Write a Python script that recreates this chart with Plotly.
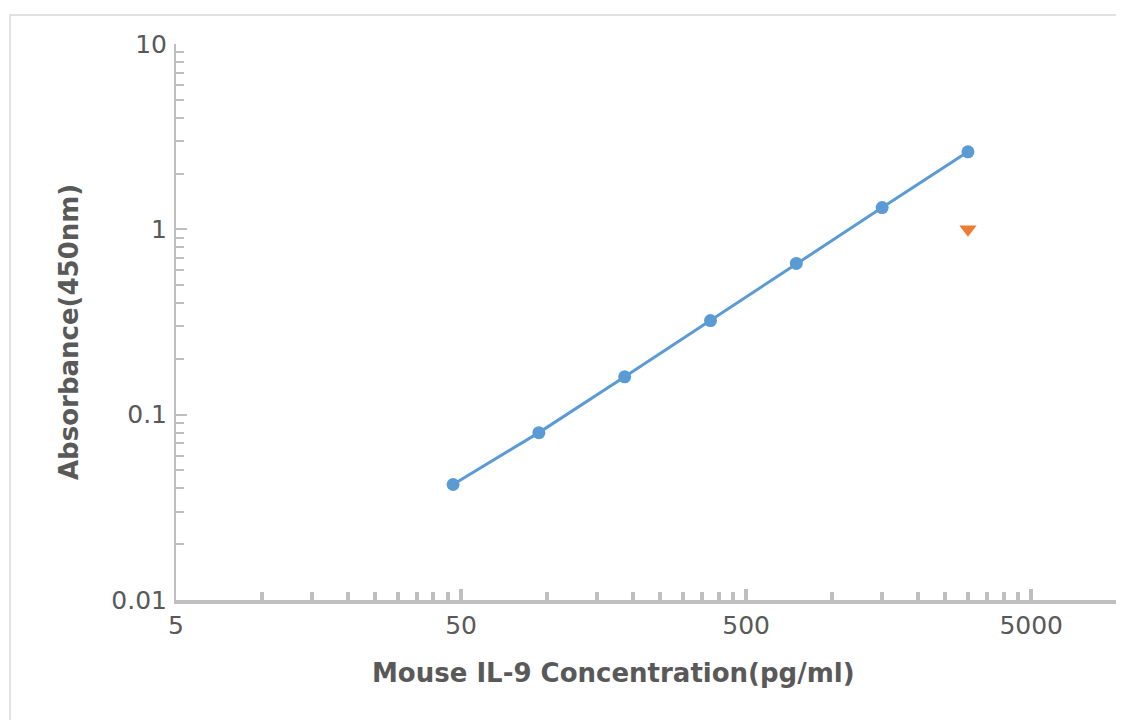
import plotly.graph_objects as go

# Data
concentration = [46.875, 93.75, 187.5, 375, 750, 1500, 3000]
absorbance = [0.042, 0.080, 0.160, 0.322, 0.655, 1.31, 2.62]
outlier_x = [3000]
outlier_y = [1.0]

x_tickvals = [5, 50, 500, 5000]
x_ticktext = ["5", "50", "500", "5000"]
x_minor = [m * 5 * 10 ** e for e in range(0, 3) for m in range(2, 10)] + [10000]
y_tickvals = [0.01, 0.1, 1, 10]
y_ticktext = ["0.01", "0.1", "1", "10"]
y_minor = [m * 10 ** e for e in range(-2, 1) for m in range(2, 10)]

x_title = "<b>Mouse IL-9 Concentration(pg/ml)</b>"
y_title = "<b>Absorbance(450nm)</b>"

AX = "#BFBFBF"
TXT = "#595959"

fig = go.Figure()
fig.add_trace(go.Scatter(
    x=concentration, y=absorbance, mode="lines+markers",
    line=dict(color="#5B9BD5", width=3),
    marker=dict(color="#5B9BD5", size=13, symbol="circle"),
    showlegend=False, cliponaxis=False,
))
fig.add_trace(go.Scatter(
    x=outlier_x, y=outlier_y, mode="markers",
    marker=dict(color="#ED7D31", size=15, symbol="triangle-down"),
    showlegend=False, cliponaxis=False,
))

# page body has an 8px margin; compensate
OFF = 8
W, H = 1124, 720
L, R, T, B = 176 - OFF, 15, 44 - OFF, 128
pw, ph = W - L - R, H - T - B

def px_x(sx):  # screen x -> paper
    return (sx - OFF - L) / pw

def px_y(sy):  # screen y -> paper
    return (T + ph - (sy - OFF)) / ph

fig.update_layout(
    width=W, height=H,
    margin=dict(l=L, r=R, t=T, b=B, autoexpand=False),
    paper_bgcolor="white", plot_bgcolor="white",
    font=dict(family="DejaVu Sans", color=TXT),
    xaxis=dict(
        type="log", range=[0.69897, 4.0],
        tickmode="array", tickvals=x_tickvals, ticktext=x_ticktext,
        ticks="inside", ticklen=11, tickwidth=4, tickcolor=AX,
        minor=dict(tickmode="array", tickvals=x_minor, ticks="inside",
                   ticklen=8, tickwidth=4, tickcolor=AX, showgrid=False),
        showline=True, linecolor=AX, linewidth=4,
        showgrid=False, zeroline=False,
        tickfont=dict(size=25, color=TXT),
        automargin=False,
    ),
    yaxis=dict(
        type="log", range=[-2, 1],
        tickmode="array", tickvals=y_tickvals, ticktext=y_ticktext,
        ticks="inside", ticklen=11, tickwidth=1.5, tickcolor=AX,
        minor=dict(tickmode="array", tickvals=y_minor, ticks="inside",
                   ticklen=8, tickwidth=1.5, tickcolor=AX, showgrid=False),
        showline=True, linecolor=AX, linewidth=2,
        showgrid=False, zeroline=False,
        tickfont=dict(size=25, color=TXT),
        ticklabelstandoff=2,
        automargin=False,
    ),
    annotations=[
        dict(text=x_title, xref="paper", yref="paper",
             x=px_x(613), y=px_y(673), xanchor="center", yanchor="middle",
             showarrow=False, font=dict(size=26, color=TXT)),
        dict(text=y_title, xref="paper", yref="paper", textangle=-90,
             x=px_x(69), y=px_y(332), xanchor="center", yanchor="middle",
             showarrow=False, font=dict(size=26, color=TXT)),
    ],
    shapes=[dict(
        type="rect", xref="paper", yref="paper",
        x0=px_x(10), x1=px_x(W + 40),
        y0=px_y(H + 40), y1=px_y(15),
        line=dict(color="#D9D9D9", width=1.5), fillcolor="rgba(0,0,0,0)",
        layer="below",
    )],
)

fig.write_html(
    "out.html",
    post_script="document.documentElement.style.overflow='hidden';"
                "document.body.style.overflow='hidden';",
)
